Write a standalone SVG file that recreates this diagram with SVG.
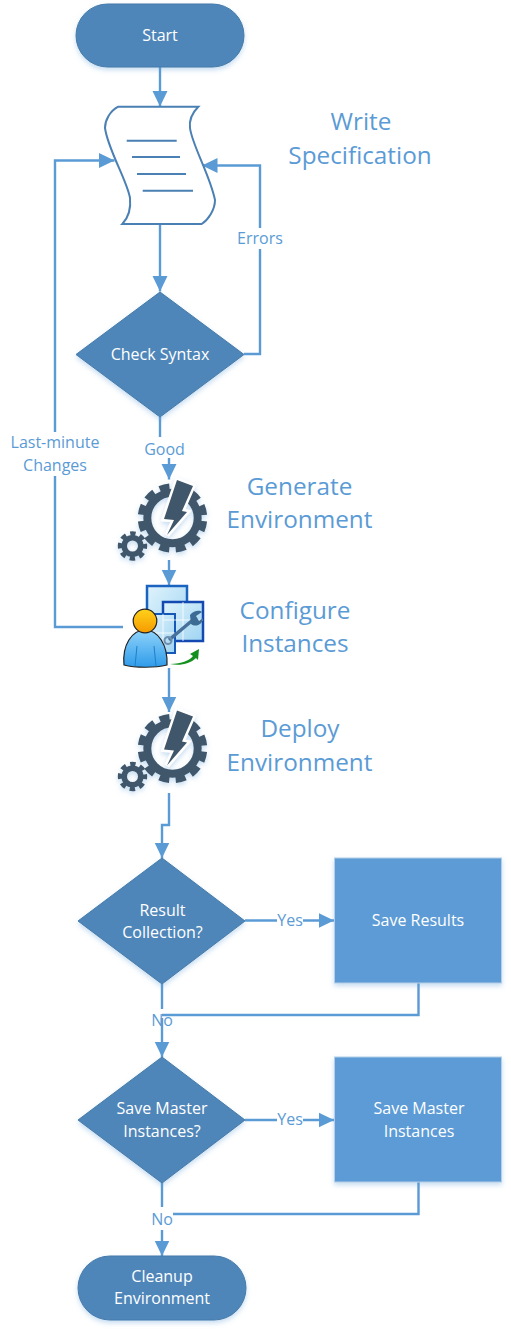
<svg xmlns="http://www.w3.org/2000/svg" width="511" height="1332" viewBox="0 0 511 1332">
<style>
text{font-family:"Open Sans","Noto Sans","Liberation Sans",sans-serif;text-anchor:middle}
.w{fill:#fff;font-size:16px}
.l{fill:#5b9bd5;font-size:16px}
.h{fill:#5b9bd5;font-size:24.3px}
.c{fill:none;stroke:#5b9bd5;stroke-width:2.4}
.n{fill:#4f86b9;stroke:#467aa9;stroke-width:1;filter:url(#s)}
.r{fill:#5b9bd5;stroke:#b5cfe8;stroke-width:1;filter:url(#s)}
.g{fill:#41576a}
.gs{fill:none;stroke:#41576a}
.dl{stroke:#4a80b4;stroke-width:2;fill:none}
</style>
<defs>
<filter id="s" x="-10%" y="-10%" width="120%" height="125%"><feDropShadow dx="0" dy="2.500" stdDeviation="2.500" flood-color="#5b9bd5" flood-opacity=".35"/></filter>
<linearGradient id="head" x1="0" y1="0" x2="0" y2="1"><stop offset="0" stop-color="#ffd21a"/><stop offset="1" stop-color="#f59a00"/></linearGradient>
<linearGradient id="body" x1="0" y1="0" x2="0" y2="1"><stop offset="0" stop-color="#8fd3fa"/><stop offset="1" stop-color="#2f9bea"/></linearGradient>
<linearGradient id="pane" x1="0" y1="0" x2="1" y2="1"><stop offset="0" stop-color="#dff3fc"/><stop offset="1" stop-color="#9fd4f2"/></linearGradient>
<marker id="a" markerUnits="userSpaceOnUse" markerWidth="16" markerHeight="16" refX="15.500" refY="8" orient="auto"><path d="M0 0.500L15.500 8L0 15.500Z" fill="#5b9bd5"/></marker>
<g id="gear" filter="url(#s)">
<circle class="gs" cx="172.5" cy="518" r="25.2" stroke-width="8"/>
<circle class="gs" cx="172.5" cy="518" r="31.500" stroke-width="6.500" stroke-dasharray="10 6.490" stroke-dashoffset="-3.200"/>
<path class="g" d="M177 480L193 486L182 511L187 512L167 535L174 520L164 519Z" stroke="#fff" stroke-width="5" paint-order="stroke"/>
<circle class="gs" cx="132.5" cy="546" r="8.300" stroke-width="5.600"/>
<circle class="gs" cx="132.5" cy="546" r="12.500" stroke-width="4.400" stroke-dasharray="5.400 4.420" stroke-dashoffset="2.700"/>
</g>
</defs>
<g id="connectors">
<path class="c" marker-end="url(#a)" d="M160 67V106.500"/>
<path class="c" marker-end="url(#a)" d="M160 224V291.500"/>
<path class="c" marker-end="url(#a)" d="M244 354H260V165.500H202"/>
<path class="c" marker-end="url(#a)" d="M123 627H55V160.500H114.500"/>
<path class="c" d="M160 417V437"/>
<path class="c" marker-end="url(#a)" d="M169 455V479.500"/>
<path class="c" marker-end="url(#a)" d="M169 560V585"/>
<path class="c" marker-end="url(#a)" d="M169 668V712"/>
<path class="c" marker-end="url(#a)" d="M169 793V825H162V858"/>
<path class="c" marker-end="url(#a)" d="M245 920.500H334"/>
<path class="c" d="M162 984V1009"/>
<path class="c" marker-end="url(#a)" d="M162 1018V1057"/>
<path class="c" d="M418.500 983V1015H162"/>
<path class="c" marker-end="url(#a)" d="M245 1120H334"/>
<path class="c" d="M162 1182V1207"/>
<path class="c" marker-end="url(#a)" d="M162 1230V1256"/>
<path class="c" d="M418.500 1182V1214H173"/>
</g>
<g id="start"><rect class="n" x="76" y="4" width="168" height="63" rx="31.500"/><text class="w" x="160" y="40.500">Start</text></g>
<g id="write-spec">
<path d="M118.300 106.700H198.300C192 113 189 120 190 128C192 145 210 175 215 200C215 210 208 220 201.700 224H122.300C128 218 131 208 130 198C127 180 108 150 105 128C105 120 110 111 118.300 106.700Z" fill="#fff" stroke="#4a80b4" stroke-width="2"/>
<path class="dl" d="M126.700 140.700H176.700M132 157H180M137 174H186M142.700 190.700H193"/>
<text class="h" x="361" y="130">Write</text><text class="h" x="360" y="164">Specification</text>
</g>
<g id="check"><path class="n" d="M160 292L244 354.500L160 417L76 354.500Z"/><text class="w" x="160" y="360">Check Syntax</text></g>
<g id="errors-label"><rect x="236" y="228" width="48" height="21" fill="#fff"/><text class="l" x="260" y="243.500">Errors</text></g>
<g id="lastminute-label"><rect x="8" y="432" width="92" height="44" fill="#fff"/><text class="l" x="55" y="448">Last-minute</text><text class="l" x="55" y="470.500">Changes</text></g>
<g id="good-label"><rect x="144" y="438" width="41" height="20" fill="#fff"/><text class="l" x="164.500" y="455">Good</text></g>
<g id="generate"><use href="#gear"/><text class="h" x="299.500" y="495">Generate</text><text class="h" x="299.500" y="528">Environment</text></g>
<g id="configure">
<rect x="147" y="586" width="40" height="52" fill="url(#pane)" stroke="#1b63c0" stroke-width="2.500"/>
<rect x="163" y="602" width="40" height="39" fill="url(#pane)" stroke="#1349b0" stroke-width="2.500"/>
<rect x="150" y="614" width="25" height="39" fill="url(#pane)" stroke="#1658b8" stroke-width="2"/>
<path d="M150 633H175M163 614V653M163 620H203M183 602V641" stroke="#fff" stroke-width="1" fill="none" opacity=".8"/>
<path d="M169 640L194 619" stroke="#47719a" stroke-width="3.500" fill="none"/>
<path d="M190 615C194 610 200 610 202 612L196 616L199 621L203 618C203 624 196 628 191 624Z" fill="#3c6b93"/>
<circle cx="168" cy="640.500" r="3.500" fill="none" stroke="#6f8fae" stroke-width="2"/>
<path d="M124 665C122 645 132 630 145 630C158 630 168 645 167 665C155 668 135 668 124 665Z" fill="url(#body)" stroke="#222" stroke-width="1.200"/>
<path d="M135 666L137 646M156 666L154 646" stroke="#1f7fc8" stroke-width="1" fill="none"/>
<circle cx="145" cy="621" r="11.800" fill="url(#head)" stroke="#222" stroke-width="1.200"/>
<path d="M170 664C182 664 190 660 193 656L190 654L199 649L198 660L196 658C190 664 180 666 170 664Z" fill="#13901f"/>
<text class="h" x="295" y="619">Configure</text><text class="h" x="295" y="652">Instances</text>
</g>
<g id="deploy"><use href="#gear" y="230.500"/><text class="h" x="300" y="737">Deploy</text><text class="h" x="299.500" y="771">Environment</text></g>
<g id="result"><path class="n" d="M162 858L245 921L162 984L78 921Z"/><text class="w" x="162.500" y="916">Result</text><text class="w" x="162.500" y="937.500">Collection?</text></g>
<g id="yes1"><rect x="277" y="912" width="26" height="18" fill="#fff"/><text class="l" x="290" y="926">Yes</text></g>
<g id="save-results"><rect class="r" x="334.500" y="858" width="167" height="125"/><text class="w" x="418" y="926">Save Results</text></g>
<g id="no1"><text class="l" x="162" y="1025.500">No</text></g>
<g id="save-master-q"><path class="n" d="M162 1057L245 1120L162 1183L78 1120Z"/><text class="w" x="162" y="1114">Save Master</text><text class="w" x="162" y="1136.500">Instances?</text></g>
<g id="yes2"><rect x="277" y="1111" width="26" height="18" fill="#fff"/><text class="l" x="290" y="1125">Yes</text></g>
<g id="save-master"><rect class="r" x="334.500" y="1057" width="167" height="125"/><text class="w" x="419" y="1114">Save Master</text><text class="w" x="419" y="1136.500">Instances</text></g>
<g id="no2"><text class="l" x="162" y="1225">No</text></g>
<g id="cleanup"><rect class="n" x="78" y="1256" width="168" height="64" rx="32"/><text class="w" x="162" y="1281.500">Cleanup</text><text class="w" x="162" y="1304">Environment</text></g>
</svg>
